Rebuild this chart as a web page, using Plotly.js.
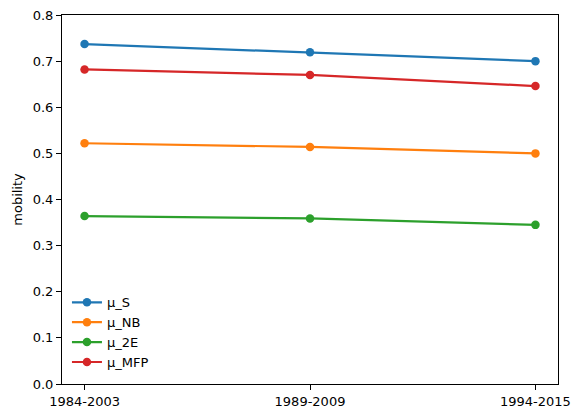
<!DOCTYPE html>
<html><head><meta charset="utf-8">
<script src="https://cdn.plot.ly/plotly-3.0.1.min.js"></script>
<style>body{margin:0;padding:0;background:#fff}</style>
</head><body>
<div id="chart" style="width:583px;height:418px"></div>
<script>
const periods = ["1984-2003", "1989-2009", "1994-2015"];
const seriesNames = ["μ_S", "μ_NB", "μ_2E", "μ_MFP"];
const muS = [0.737, 0.719, 0.700];
const muNB = [0.522, 0.514, 0.500];
const mu2E = [0.364, 0.359, 0.345];
const muMFP = [0.682, 0.670, 0.646];
const colors = ["#1f77b4", "#ff7f0e", "#2ca02c", "#d62728"];
const values = [muS, muNB, mu2E, muMFP];

const xIdx = periods.map((p, i) => i);
const traces = values.map((v, k) => ({
  x: xIdx, y: v, name: seriesNames[k], type: "scatter", mode: "lines+markers",
  line: {color: colors[k], width: 2.2},
  marker: {color: colors[k], size: 8.5}
}));

const axisCommon = {
  showline: true, linecolor: "#000", linewidth: 1, mirror: true,
  ticks: "outside", ticklen: 5, tickcolor: "#000", tickwidth: 1,
  showgrid: false, zeroline: false,
  tickfont: {family: "DejaVu Sans", size: 13, color: "#000"}
};

const layout = {
  width: 583, height: 418,
  margin: {l: 62, r: 25, t: 15, b: 34},
  paper_bgcolor: "#fff", plot_bgcolor: "#fff",
  showlegend: true,
  xaxis: Object.assign({}, axisCommon, {
    range: [-0.1, 2.1], tickvals: xIdx, ticktext: periods
  }),
  yaxis: Object.assign({}, axisCommon, {
    range: [0, 0.8], dtick: 0.1, tickformat: ".1f",
    title: {text: "mobility", font: {family: "DejaVu Sans", size: 13, color: "#000"}, standoff: 7}
  }),
  legend: {
    x: 0.01, y: 0.018, xanchor: "left", yanchor: "bottom",
    bgcolor: "rgba(255,255,255,0)", borderwidth: 0,
    font: {family: "DejaVu Sans", size: 13, color: "#000"},
    itemwidth: 30, tracegroupgap: 0
  }
};

Plotly.newPlot("chart", traces, layout, {displayModeBar: false, staticPlot: true});
</script>
</body></html>
